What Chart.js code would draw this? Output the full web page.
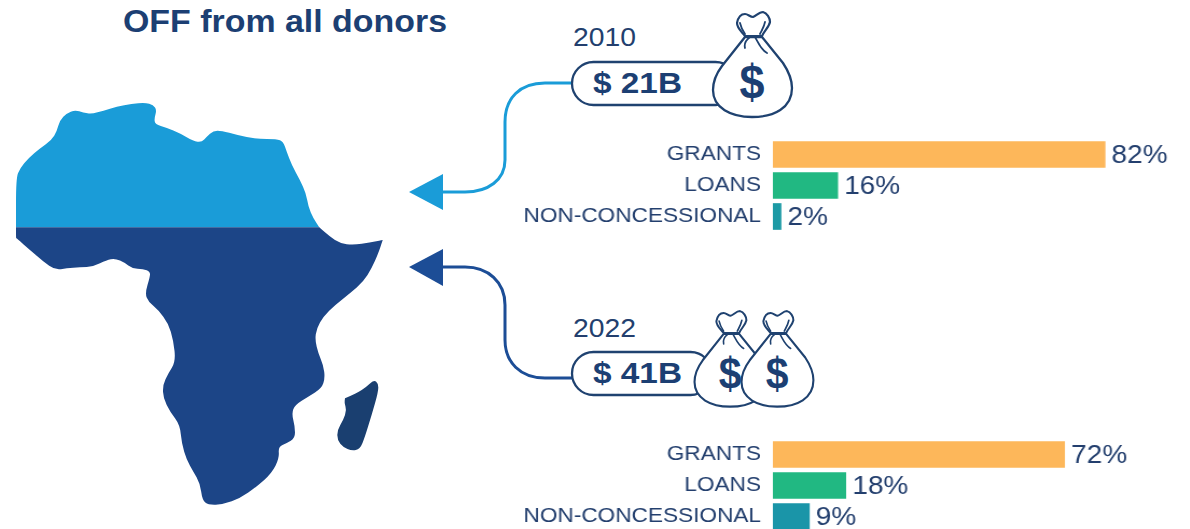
<!DOCTYPE html>
<html>
<head>
<meta charset="utf-8">
<title>OFF from all donors</title>
<script src="https://cdn.jsdelivr.net/npm/chart.js@4"></script>
<style>
    html, body { margin: 0; padding: 0; background: #fff; overflow: hidden; }
    #stage { position: relative; width: 1190px; height: 529px; overflow: hidden; font-family: "Liberation Sans", Arial, sans-serif; }
    #art { position: absolute; left: 0; top: 0; }
    /* the reference is stretched sideways, so the charts are too: 620px wide shown as 668px */
    canvas { position: absolute; left: 510px; transform-origin: 0 0; transform: scaleX(1.0774); }
    #chart2010 { top: 139px; }
    #chart2022 { top: 439px; }
</style>
</head>
<body>
<div id="stage">
    <svg id="art" width="1190" height="529" viewBox="0 0 1190 529">
        <defs>
            <g id="bag">
                <path d="M745,37 L722,66 C716,74 713,81 713,90 C713,108 731,117 752,117 C774,117 792,108 792,88 C792,80 789,72 783,63 L762,37 Z" fill="#fff" stroke="#1f4270" stroke-width="2.3" stroke-linejoin="round"/>
                <path d="M745,36 C741,31 737,28 737,23 C738,18 740,14 745,14 C748,14 750,17 753,17 C756,16 759,12 763,12 C767,13 770,18 770,22 C769,27 765,30 762,36 Z" fill="#fff" stroke="#1f4270" stroke-width="2.2" stroke-linejoin="round"/>
                <path d="M740,23 C741,28 743,31 745,34 M765,22 C764,27 762,30 760,34 M750,37 C746,40 744,44 745,48 M755,37 C758,42 761,50 767,53" fill="none" stroke="#1f4270" stroke-width="1.8" stroke-linecap="round"/>
                <text x="752" y="98" text-anchor="middle" font-size="49" font-weight="bold" fill="#1c3f73" textLength="25" lengthAdjust="spacingAndGlyphs">$</text>
            </g>
        </defs>

        <path id="mapNorth" fill="#1a9cd8"></path>
        <path id="mapSouth" fill="#1c4587"></path>
        <path id="mapIsland" fill="#1a3f70"></path>

        <text x="123" y="32" font-size="32" font-weight="bold" fill="#1c3f73" textLength="324" lengthAdjust="spacingAndGlyphs">OFF from all donors</text>

        <!-- 2010 -->
        <path d="M572,83 L545,83 C520,83 505,98 505,122 L505,160 C505,180 488,192 465,192 L440,192" fill="none" stroke="#1a9cd8" stroke-width="3"/>
        <polygon points="409,192 443,174 443,210" fill="#1a9cd8"/>
        <text x="573" y="46" font-size="26" fill="#233f6e" textLength="63" lengthAdjust="spacingAndGlyphs">2010</text>
        <rect x="572" y="62" width="165" height="43" rx="21.5" fill="#fff" stroke="#1f4270" stroke-width="2.3"/>
        <text x="593" y="93" font-size="30" font-weight="bold" fill="#1c3f73" textLength="89" lengthAdjust="spacingAndGlyphs">$ 21B</text>
        <use href="#bag"/>

        <!-- 2022 -->
        <path d="M572,378 L545,378 C520,378 505,362 505,340 L505,305 C505,282 488,267 465,267 L440,267" fill="none" stroke="#1c4d96" stroke-width="3"/>
        <polygon points="409,267 443,249 443,286" fill="#1c4d96"/>
        <text x="573" y="337" font-size="26" fill="#233f6e" textLength="63" lengthAdjust="spacingAndGlyphs">2022</text>
        <rect x="572" y="352" width="140" height="43" rx="21.5" fill="#fff" stroke="#1f4270" stroke-width="2.3"/>
        <text x="593" y="383" font-size="30" font-weight="bold" fill="#1c3f73" textLength="89" lengthAdjust="spacingAndGlyphs">$ 41B</text>
        <use href="#bag" transform="translate(45.7,300.2) scale(.91)"/>
        <use href="#bag" transform="translate(92.7,300.2) scale(.91)"/>
    </svg>

    <canvas id="chart2010" width="620" height="93"></canvas>
    <canvas id="chart2022" width="620" height="93"></canvas>
</div>

<script>
    // Chart data
    var categories = ['GRANTS', 'LOANS', 'NON-CONCESSIONAL'];
    var shares2010 = [82, 16, 2];
    var shares2022 = [72, 18, 9];
    var colors2010 = ['#fdb75a', '#21b882', '#1c9aa5'];
    var colors2022 = ['#fdb75a', '#21b882', '#1a95a8'];

    var textColor = '#233f6e';

    // Map outline, traced at 3x, offset by 90px at the top. A doubled point keeps a sharp corner.
    var northOutline = [[48,412],[48,412],[48,265],[60,235],[85,205],[120,175],[155,150],[170,125],[180,90],[200,70],[225,60],[250,68],[275,72],[310,62],[350,50],[395,42],[435,38],[460,45],[470,60],[463,85],[465,103],[500,113],[540,130],[580,153],[605,157],[620,140],[640,122],[665,122],[710,135],[770,147],[830,147],[850,155],[860,185],[875,225],[900,270],[918,310],[925,350],[940,385],[958,412],[958,412]];
    var southOutline = [[48,412],[48,412],[958,412],[958,412],[990,440],[1020,460],[1060,465],[1110,458],[1148,450],[1148,450],[1135,490],[1115,535],[1090,575],[1050,610],[1005,645],[970,680],[950,715],[945,750],[955,790],[970,825],[975,865],[965,895],[925,920],[885,945],[875,970],[885,1010],[885,1045],[860,1060],[835,1070],[838,1105],[815,1150],[770,1190],[720,1225],[670,1243],[625,1245],[607,1230],[600,1180],[580,1145],[560,1110],[545,1060],[540,1005],[510,965],[490,925],[488,885],[505,850],[527,815],[520,750],[505,700],[475,660],[445,635],[435,610],[450,560],[450,545],[430,537],[395,535],[375,518],[345,505],[320,510],[280,530],[240,532],[200,535],[165,540],[130,515],[90,480],[50,445],[48,445],[48,412]];
    var islandOutline = [[1035,925],[1070,910],[1100,890],[1122,870],[1135,880],[1135,905],[1115,975],[1095,1040],[1080,1078],[1055,1082],[1030,1072],[1012,1050],[1012,1020],[1030,990],[1040,960],[1033,940],[1035,925]];

    function smoothPath(points) {
        var toPage = function (p) { return (p[0] / 3).toFixed(1) + ',' + (90 + p[1] / 3).toFixed(1); };
        var d = 'M' + toPage(points[0]);
        for (var i = 1; i < points.length - 1; i++) {
            var mid = [(points[i][0] + points[i + 1][0]) / 2, (points[i][1] + points[i + 1][1]) / 2];
            d += ' Q' + toPage(points[i]) + ' ' + toPage(mid);
        }
        return d + ' L' + toPage(points[points.length - 1]) + ' Z';
    }

    document.getElementById('mapNorth').setAttribute('d', smoothPath(northOutline));
    document.getElementById('mapSouth').setAttribute('d', smoothPath(southOutline));
    document.getElementById('mapIsland').setAttribute('d', smoothPath(islandOutline));

    // Writes the percentage after each bar
    var valueLabels = {
        id: 'valueLabels',
        afterDatasetsDraw: function (chart) {
            var ctx = chart.ctx;
            var bars = chart.getDatasetMeta(0).data;
            ctx.save();
            ctx.font = '26px "Liberation Sans", Arial, sans-serif';
            ctx.fillStyle = textColor;
            ctx.textAlign = 'left';
            ctx.textBaseline = 'middle';
            bars.forEach(function (bar, i) {
                ctx.fillText(chart.data.datasets[0].data[i] + '%', bar.x + 6, bar.y + 1);
            });
            ctx.restore();
        }
    };

    function makeBarChart(id, values, colors) {
        return new Chart(document.getElementById(id), {
            type: 'bar',
            data: {
                labels: categories,
                datasets: [{ data: values, backgroundColor: colors, barThickness: 26 }]
            },
            options: {
                indexAxis: 'y',
                responsive: false,
                animation: false,
                layout: { padding: 0 },
                plugins: { legend: { display: false }, tooltip: { enabled: false } },
                scales: {
                    x: { display: false, min: 0, max: 100 },
                    y: {
                        // fixed gutter for the labels, and no extra room above or below the bars
                        afterFit: function (axis) {
                            axis.width = 244;
                            axis.paddingTop = 0;
                            axis.paddingBottom = 0;
                        },
                        border: { display: false },
                        grid: { display: false, drawTicks: false },
                        ticks: {
                            color: textColor,
                            padding: 11,
                            font: { family: '"Liberation Sans", Arial, sans-serif', size: 21 }
                        }
                    }
                }
            },
            plugins: [valueLabels]
        });
    }

    makeBarChart('chart2010', shares2010, colors2010);
    makeBarChart('chart2022', shares2022, colors2022);
</script>
</body>
</html>
